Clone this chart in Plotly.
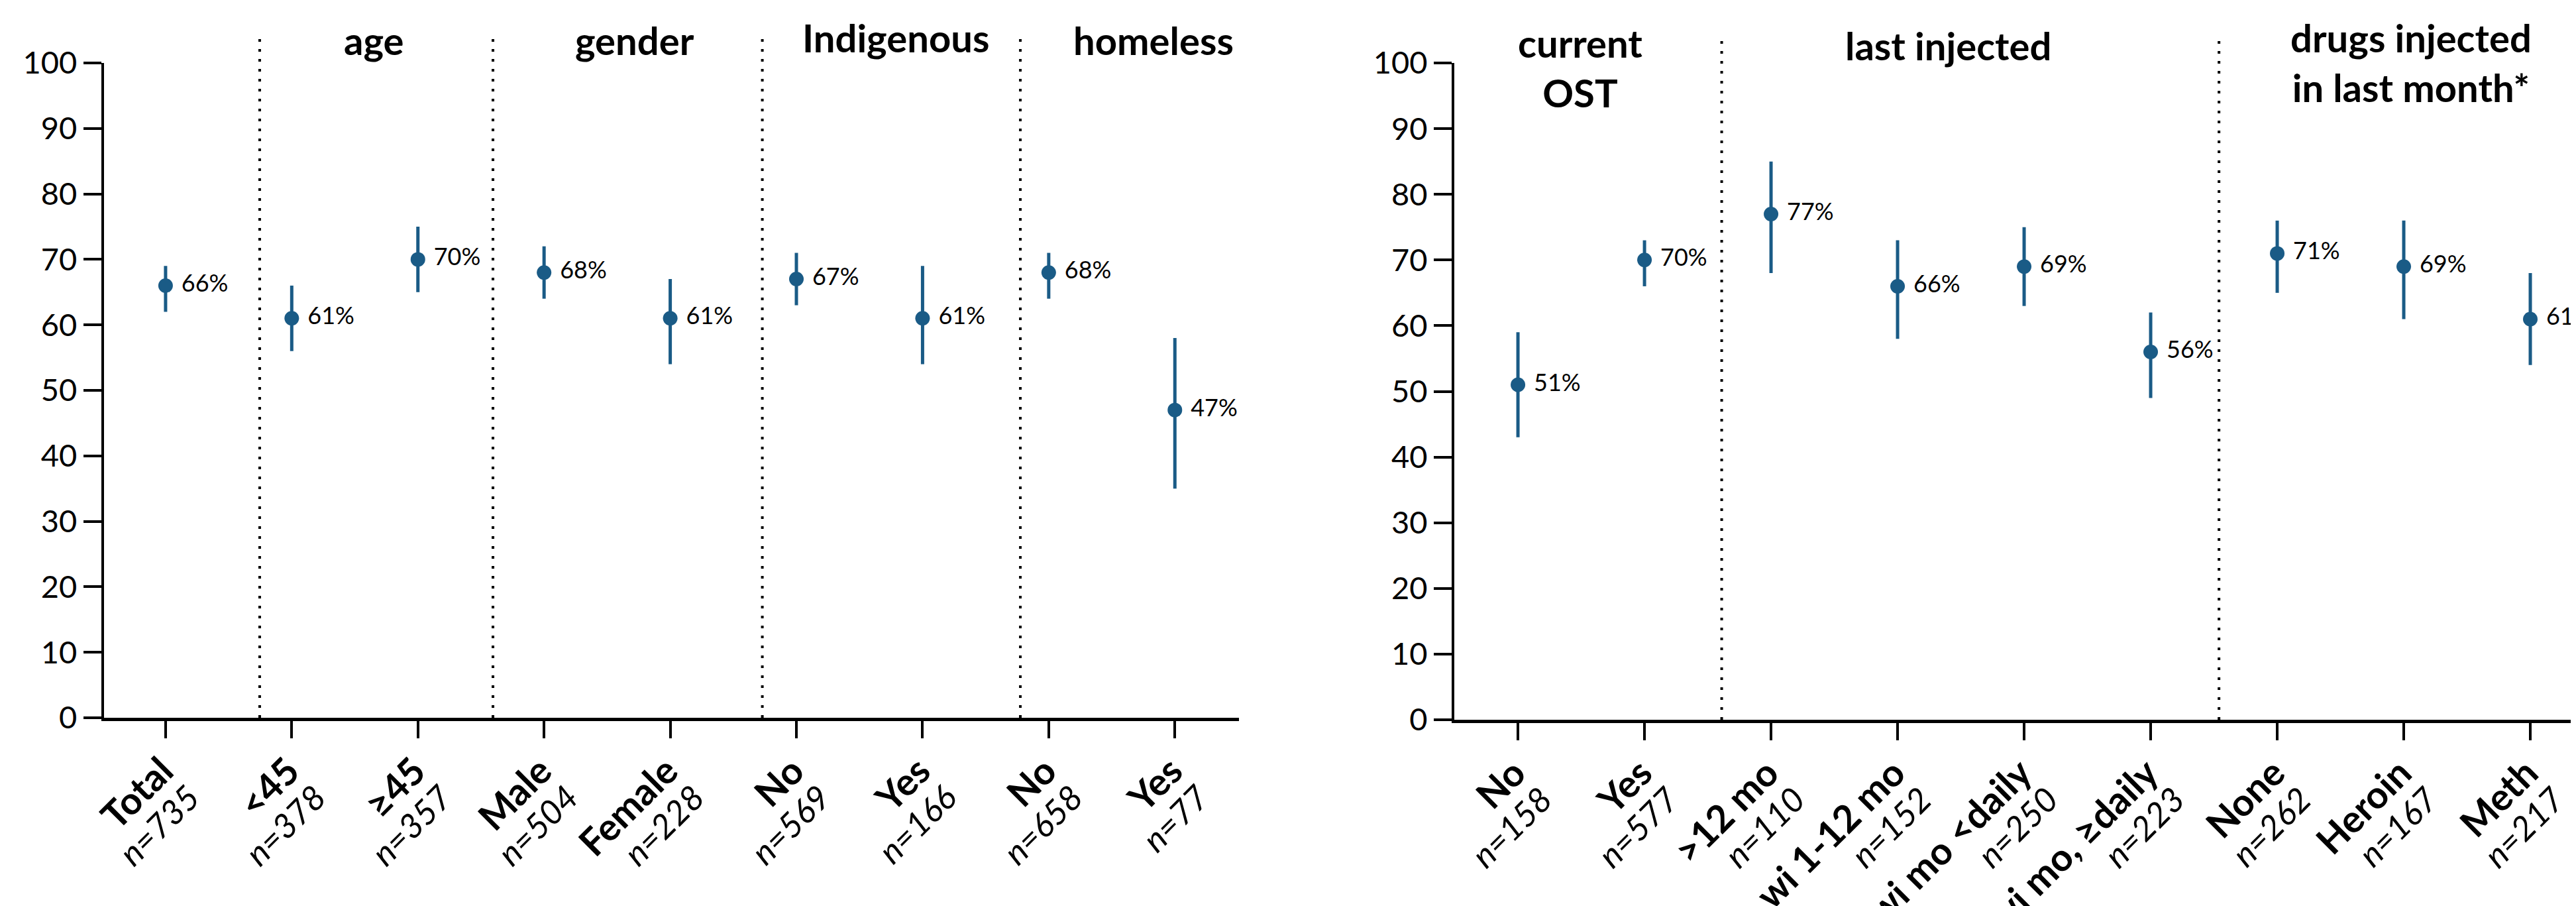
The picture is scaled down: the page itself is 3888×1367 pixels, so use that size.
import plotly.graph_objects as go

# ---------------- data ----------------
left_names = ["Total", "&lt;45", "≥45", "Male", "Female", "No", "Yes", "No", "Yes"]
left_n = [735, 378, 357, 504, 228, 569, 166, 658, 77]
left_pct = [66, 61, 70, 68, 61, 67, 61, 68, 47]
left_lo = [62, 56, 65, 64, 54, 63, 54, 64, 35]
left_hi = [69, 66, 75, 72, 67, 71, 69, 71, 58]
left_groups = ["age", "gender", "Indigenous", "homeless"]

right_names = ["No", "Yes", "&gt;12 mo", "wi 1-12 mo", "wi mo &lt;daily",
               "wi mo, ≥daily", "None", "Heroin", "Meth"]
right_n = [158, 577, 110, 152, 250, 223, 262, 167, 217]
right_pct = [51, 70, 77, 66, 69, 56, 71, 69, 61]
right_lo = [43, 66, 68, 58, 63, 49, 65, 61, 54]
right_hi = [59, 73, 85, 73, 75, 62, 76, 76, 68]
right_groups = ["current<br>OST", "last injected", "drugs injected<br>in last month*"]

y_ticks = list(range(0, 101, 10))

# ---------------- style ----------------
W, H = 3888, 1367
BLUE = "#1a5b86"
FONT = "Lato"
TICK_FS = 47
BASE_FS = 43
NAME_FS = 57
N_FS = 51
PCT_FS = 36
HEAD_FS = 58


def px_x(p):
    return p / W


def px_y(p):
    return 1 - p / H


def ticktext(names, ns):
    return [f"<b><span style='font-size:{NAME_FS}px'>{a}</span></b><br>"
            f"<i><span style='font-size:{N_FS}px'>n={b}</span></i>"
            for a, b in zip(names, ns)]


LEFT_DOM = [px_x(148.6), px_x(1862)]
LEFT_RANGE = [-0.49, 8.508]
RIGHT_DOM = [px_x(2187), 1.0]
RIGHT_RANGE = [-0.503, 8.403]


def to_paper(v, dom, rng):
    return dom[0] + (v - rng[0]) / (rng[1] - rng[0]) * (dom[1] - dom[0])


fig = go.Figure()

panels = [
    dict(xa="x", ya="y", names=left_names, n=left_n, pct=left_pct, lo=left_lo, hi=left_hi),
    dict(xa="x2", ya="y2", names=right_names, n=right_n, pct=right_pct, lo=right_lo, hi=right_hi),
]

for p in panels:
    xs = list(range(len(p["pct"])))
    fig.add_trace(go.Scatter(
        x=xs, y=p["pct"], xaxis=p["xa"], yaxis=p["ya"],
        mode="markers+text",
        marker=dict(size=22, color=BLUE),
        error_y=dict(type="data", symmetric=False,
                     array=[h - v for h, v in zip(p["hi"], p["pct"])],
                     arrayminus=[v - l for v, l in zip(p["pct"], p["lo"])],
                     thickness=5, width=0, color=BLUE),
        text=[f"\u00a0{v}%" for v in p["pct"]],
        textposition="middle right",
        textfont=dict(family=FONT, size=PCT_FS, color="black"),
        cliponaxis=False,
        showlegend=False,
        hoverinfo="skip",
    ))

axis_common = dict(showgrid=False, zeroline=False, showline=True, linecolor="black",
                   ticks="outside", tickcolor="black", color="black", automargin=False)

fig.update_layout(
    template="none",
    width=W, height=H,
    margin=dict(l=0, r=0, t=0, b=0, autoexpand=False),
    paper_bgcolor="white", plot_bgcolor="white",
    font=dict(family=FONT, color="black"),
    xaxis=dict(**axis_common, domain=LEFT_DOM,
               range=LEFT_RANGE, tickmode="array",
               tickvals=list(range(len(left_names))), ticktext=ticktext(left_names, left_n),
               tickangle=-45, ticklen=26, tickwidth=4, linewidth=5, ticklabelstandoff=8,
               tickfont=dict(family=FONT, size=BASE_FS, color="black"),
               anchor="y"),
    yaxis=dict(**axis_common, domain=[px_y(1075), px_y(87)], range=[0, 100],
               tickvals=y_ticks, ticklen=27, tickwidth=4, linewidth=4,
               tickfont=dict(family=FONT, size=TICK_FS, color="black"),
               anchor="x"),
    xaxis2=dict(**axis_common, domain=RIGHT_DOM,
                range=RIGHT_RANGE, tickmode="array",
                tickvals=list(range(len(right_names))), ticktext=ticktext(right_names, right_n),
                tickangle=-45, ticklen=26, tickwidth=4, linewidth=5, ticklabelstandoff=8,
                tickfont=dict(family=FONT, size=BASE_FS, color="black"),
                anchor="y2"),
    yaxis2=dict(**axis_common, domain=[px_y(1078), px_y(87)], range=[0, 100],
                tickvals=y_ticks, ticklen=27, tickwidth=4, linewidth=4,
                tickfont=dict(family=FONT, size=TICK_FS, color="black"),
                anchor="x2"),
)

# separators (dotted vertical lines between groups), placed via the axis scale
left_seps = [0.746, 2.595, 4.73, 6.775]
right_seps = [1.61, 5.54]
for dom, rng, ybot, seps in [(LEFT_DOM, LEFT_RANGE, 1075, left_seps),
                             (RIGHT_DOM, RIGHT_RANGE, 1078, right_seps)]:
    for s in seps:
        xp = to_paper(s, dom, rng)
        fig.add_shape(type="line", xref="paper", yref="paper", x0=xp, x1=xp,
                      y0=px_y(ybot), y1=px_y(50),
                      line=dict(color="black", width=4, dash="4px,11px"))

# group headers
left_head_x = [1.65, 3.72, 5.79, 7.83]
left_head_top = [16, 16, 12, 16]
right_head_x = [0.49, 3.40, 7.06]
right_head_top = [20, 24, 12]
for xref, names, xs, tops in [("x", left_groups, left_head_x, left_head_top),
                              ("x2", right_groups, right_head_x, right_head_top)]:
    for t, x, top in zip(names, xs, tops):
        fig.add_annotation(text=f"<b>{t}</b>", xref=xref, yref="paper", x=x, y=px_y(top),
                           xanchor="center", yanchor="top", showarrow=False,
                           font=dict(family=FONT, size=HEAD_FS, color="black"))

fig.write_html("out.html")
